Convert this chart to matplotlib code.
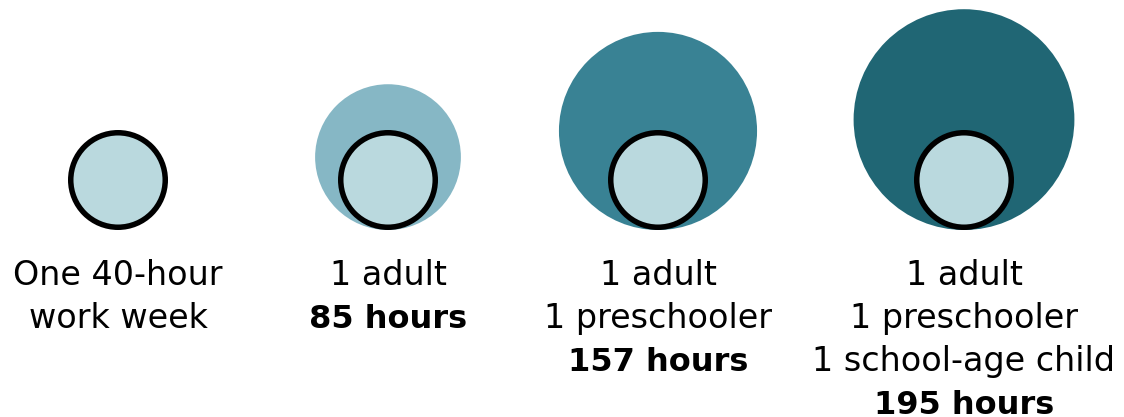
import matplotlib
matplotlib.use("Agg")
import matplotlib.pyplot as plt
from matplotlib.patches import Circle
import numpy as np

# hours needed per household type vs. one 40-hour work week
BASE_HOURS = 40
hours = [40, 85, 157, 195]
colors = ["#BAD9DE", "#86B7C5", "#398294", "#206674"]
labels = [
    ["One 40-hour", "work week"],
    ["1 adult", "85 hours"],
    ["1 adult", "1 preschooler", "157 hours"],
    ["1 adult", "1 preschooler", "1 school-age child", "195 hours"],
]
bold_last = [False, True, True, True]

plt.rcParams['font.family'] = ['DejaVu Sans']

fig = plt.figure(figsize=(11.24, 4.17), dpi=100)
ax = fig.add_axes([0, 0, 1, 1])
ax.set_xlim(0, 1124)
ax.set_ylim(417, 0)
ax.set_aspect('equal')
ax.axis('off')

centers_x = [118, 388, 658, 964]
bottom = 230
r0 = 50  # outer radius of the 40-hour circle

for i, h in enumerate(hours):
    cx = centers_x[i]
    r = r0 * np.sqrt(h / BASE_HOURS)
    if i > 0:
        ax.add_patch(Circle((cx, bottom - r), r, facecolor=colors[i],
                            edgecolor='none', zorder=1))
    # reference 40-hour circle
    lw_px = 5.5
    ax.add_patch(Circle((cx, bottom - r0), r0 - lw_px / 2, facecolor=colors[0],
                        edgecolor='black', linewidth=lw_px * 72 / 100, zorder=2))

    for j, line in enumerate(labels[i]):
        is_bold = bold_last[i] and j == len(labels[i]) - 1
        ax.text(cx, 285 + 43 * j, line, ha='center', va='baseline',
                fontsize=23 if is_bold else 24, color='black',
                fontweight='bold' if is_bold else 'normal')

fig.savefig("out.png", dpi=100)
